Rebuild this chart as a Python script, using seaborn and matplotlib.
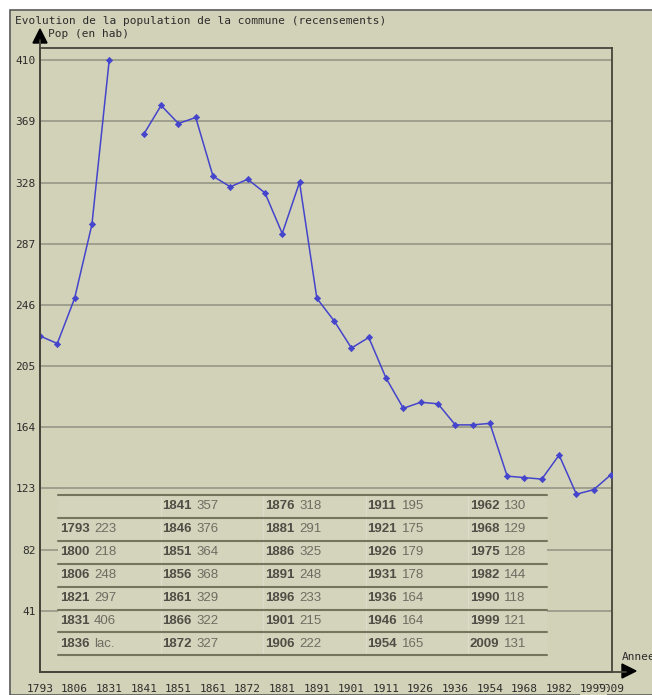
import numpy as np
import pandas as pd
import matplotlib
matplotlib.use('Agg')
import matplotlib.pyplot as plt
from matplotlib.patches import Rectangle, Polygon
from matplotlib.lines import Line2D
import seaborn as sns

# recensements (1836 : lacune)
years = [1793, 1800, 1806, 1821, 1831, 1836, 1841, 1846, 1851, 1856, 1861, 1866, 1872,
         1876, 1881, 1886, 1891, 1896, 1901, 1906, 1911, 1921, 1926, 1931, 1936, 1946,
         1954, 1962, 1968, 1975, 1982, 1990, 1999, 2009]
pop = [223, 218, 248, 297, 406, np.nan, 357, 376, 364, 368, 329, 322, 327,
       318, 291, 325, 248, 233, 215, 222, 195, 175, 179, 178, 164, 164,
       165, 130, 129, 128, 144, 118, 121, 131]
ytick_labels = ['41', '82', '123', '164', '205', '246', '287', '328', '369', '410']

title = "Evolution de la population de la commune (recensements)"
ylab = "Pop (en hab)"
xlab = "Annee"

W, H = 652, 695
BG = '#d2d2b8'
DARK = '#45453a'
TXT = '#2c2c2c'

def fx(x):
    return x / W

def fy(y):
    return 1 - y / H

sns.set_style('white')
plt.rcParams['font.family'] = ['DejaVu Sans Mono']

fig = plt.figure(figsize=(W / 100, H / 100), dpi=100)
fig.patch.set_facecolor('white')
fig.add_artist(Rectangle((fx(10), 0), 1, fy(10), transform=fig.transFigure,
                         facecolor=BG, edgecolor='#5a5a5a', lw=1.2, zorder=-5))

ax = fig.add_axes([fx(40), fy(672), (612 - 40) / W, (672 - 48) / H])
ax.set_facecolor(BG)

df = pd.DataFrame({'pos': np.arange(len(years)), 'year': years, 'pop': pop})
df['segment'] = df['pop'].isna().cumsum()
sns.lineplot(data=df.dropna(), x='pos', y='pop', units='segment', estimator=None,
             color='#4444cc', lw=1.1, marker='D', markersize=3.2,
             markeredgecolor='#4444cc', markeredgewidth=0.5, ax=ax, zorder=3)

# axes
n = len(years)
ax.set_xlim(0, (n - 1) * 572 / 571)
step = np.nanmax(pop) / 10
ax.set_ylim(0, step * 10.2)
ax.set_yticks(step * np.arange(1, 11), ytick_labels)
order = list(range(n - 2)) + [n - 1, n - 2]
xlabels = [str(years[i]) if (i % 2 == 0 or i == n - 1) else '' for i in order]
ax.set_xticks(order, xlabels)
for t in ax.get_xticklabels():
    if t.get_text() == '1999':
        t.set_bbox(dict(facecolor=BG, edgecolor='none', pad=0))
ax.set_xlabel('')
ax.set_ylabel('')
ax.tick_params(axis='x', direction='out', length=7.5, width=1, color=DARK,
               labelsize=8, pad=1.5, labelcolor=TXT)
ax.tick_params(axis='y', length=0, pad=3, labelsize=8, labelcolor=TXT)
ax.grid(axis='y', color='#9b9b8a', lw=1.3)
ax.grid(axis='x', visible=False)
ax.set_axisbelow(True)
for s in ax.spines.values():
    s.set_color(DARK)
    s.set_linewidth(1.3)

# axis arrows
fig.add_artist(Line2D([fx(40), fx(40)], [fy(672), fy(40)], color=DARK, lw=1.3))
fig.add_artist(Line2D([fx(40), fx(626)], [fy(672), fy(672)], color=DARK, lw=1.3))
fig.add_artist(Polygon([(fx(33), fy(43)), (fx(47), fy(43)), (fx(40), fy(29))],
                       closed=True, color='black', transform=fig.transFigure))
fig.add_artist(Polygon([(fx(622), fy(664)), (fx(622), fy(678)), (fx(636), fy(671))],
                       closed=True, color='black', transform=fig.transFigure))

fig.text(fx(15), fy(21), title, fontsize=8, color=TXT, va='center', ha='left')
fig.text(fx(48), fy(34), ylab, fontsize=8, color=TXT, va='center', ha='left')
fig.text(fx(622), fy(657), xlab, fontsize=8, color=TXT, va='center', ha='left')

# tableau des recensements
def axp(x, y):
    return (x - 40) / 572, (672 - y) / 624

nrows = 7
row_h = 22.9
top = 495
x0, x1 = 58, 547
col_w = 102.5
bx, by = axp(x0, top + nrows * row_h + 1)
ex, ey = axp(x1, top - 1)
ax.add_patch(Rectangle((bx, by), ex - bx, ey - by, transform=ax.transAxes,
                       facecolor='#d4d4bc', edgecolor='none', zorder=1))
for k in range(nrows + 1):
    y = top + k * row_h
    (a, b), (c, _) = axp(x0, y), axp(x1, y)
    ax.add_line(Line2D([a, c], [b, b], transform=ax.transAxes, color='#75755d',
                       lw=1.5, zorder=2))
for c in range(1, 5):
    xa, ya = axp(60 + c * col_w - 2, top)
    _, yb = axp(0, top + nrows * row_h)
    ax.add_line(Line2D([xa, xa], [ya, yb], transform=ax.transAxes, color='#dcdccb',
                       lw=1, zorder=1.5))

cells = [None] + [(y, 'lac.' if np.isnan(p) else str(int(p))) for y, p in zip(years, pop)]
for i, cell in enumerate(cells):
    if cell is None:
        continue
    c, r = divmod(i, nrows)
    yc = top + (r + 0.5) * row_h
    xa, ya = axp(60 + c * col_w, yc)
    xb, _ = axp(60 + c * col_w + 34, yc)
    ax.text(xa, ya, str(cell[0]), transform=ax.transAxes, family='Liberation Sans',
            fontsize=9.5, fontweight='bold', color='#4e4e46', va='center', ha='left')
    ax.text(xb, ya, cell[1], transform=ax.transAxes, family='Liberation Sans',
            fontsize=9.5, color='#6c6c62', va='center', ha='left')

fig.savefig('out.png', dpi=100)
